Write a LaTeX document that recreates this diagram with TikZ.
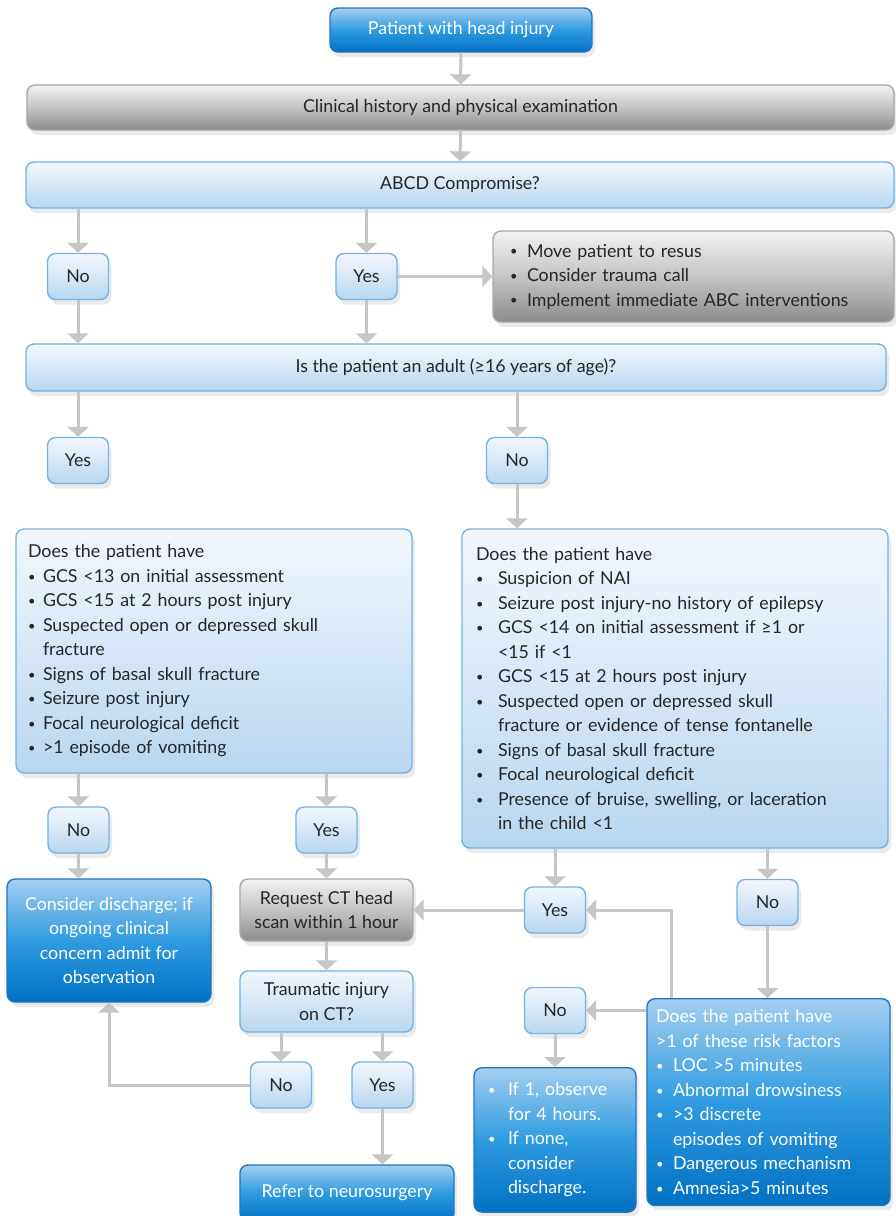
\documentclass[tikz,border=0pt]{standalone}
\usepackage{fontspec}
\setmainfont{Lato}
\usepackage{tikz}
\usetikzlibrary{arrows.meta,positioning,calc,shadows}

\definecolor{lbtop}{HTML}{F3F7FD}
\definecolor{lbbot}{HTML}{B7D7F1}
\definecolor{lbdraw}{HTML}{74B3E4}
\definecolor{dbtop}{HTML}{A4CEF0}
\definecolor{dbmid}{HTML}{2F9BE0}
\definecolor{dbbot}{HTML}{0070C4}
\definecolor{dbdraw}{HTML}{2574BE}
\definecolor{grtop}{HTML}{F2F2F2}
\definecolor{grmid}{HTML}{C4C4C4}
\definecolor{grbot}{HTML}{8C8C8C}
\definecolor{grdraw}{HTML}{A8A8A8}
\definecolor{txt}{HTML}{262626}
\definecolor{flowgray}{HTML}{C6C6C6}

\newcommand{\bul}[1]{\makebox[#1][l]{\raisebox{1.2pt}{\scalebox{0.72}{\textbullet}}}}

\begin{document}
\begin{tikzpicture}[
    x=1pt, y=-1pt,
    >={Triangle[length=10pt,width=21pt]},
    box/.style={rounded corners=8pt,line width=1.4pt,inner sep=0pt,
                font=\fontsize{17.8}{24.5}\selectfont,text=txt,
                drop shadow={shadow xshift=3pt,shadow yshift=-5pt,opacity=0.16}},
    pale/.style={box,draw=lbdraw,top color=lbtop,bottom color=lbbot},
    deep/.style={box,draw=dbdraw,top color=dbtop,bottom color=dbbot,
                 middle color=dbmid,text=white},
    greybox/.style={box,draw=grdraw,top color=grtop,bottom color=grbot,
                    middle color=grmid},
    answer/.style={pale,minimum width=61pt,minimum height=46pt},
    flow/.style={->,flowgray,line width=3pt},
  ]

  \useasboundingbox (0,0) rectangle (896,1216);
  \fill[white] (0,0) rectangle (896,1216);
  \clip (0,0) rectangle (896,1216);

  % --- arrival and first assessment ---
  \node[deep,minimum width=262pt,minimum height=44pt] (head) at (461,30)
    {Patient with head injury};
  \node[greybox,minimum width=867pt,minimum height=45pt] (clin) at (460.5,107.5)
    {Clinical history and physical examination};
  \node[pale,minimum width=868pt,minimum height=46pt] (abcd) at (460,185)
    {ABCD Compromise?};

  \node[answer] (abcdno)  at (78,276.5)  {No};
  \node[answer] (abcdyes) at (366.5,276.5) {Yes};
  \node[greybox,minimum width=401pt,minimum height=91pt,text width=367pt,
        align=left] (resus) at (693.5,276.5)
    {\bul{17pt}Move patient to resus\\
     \bul{17pt}Consider trauma call\\
     \bul{17pt}Implement immediate ABC interventions};

  % --- age split ---
  \node[pale,minimum width=860pt,minimum height=47pt] (adult) at (456,367.5)
    {Is the patient an adult (≥16 years of age)?};
  \node[answer] (adultyes) at (78,460.5)  {Yes};
  \node[answer] (adultno)  at (517,460.5) {No};

  % --- risk checklists ---
  \node[pale,minimum width=396pt,minimum height=244pt,text width=372pt,
        align=left] (adultrisk) at (214,651)
    {Does the patient have\\
     \bul{15pt}GCS <13 on initial assessment\\
     \bul{15pt}GCS <15 at 2 hours post injury\\
     \bul{15pt}Suspected open or depressed skull\\
     \hspace*{15pt}fracture\\
     \bul{15pt}Signs of basal skull fracture\\
     \bul{15pt}Seizure post injury\\
     \bul{15pt}Focal neurological deficit\\
     \bul{15pt}>1 episode of vomiting};
  \node[pale,minimum width=426pt,minimum height=319pt,text width=398pt,
        align=left] (childrisk) at (675,688.5)
    {Does the patient have\\
     \bul{22pt}Suspicion of NAI\\
     \bul{22pt}Seizure post injury-no history of epilepsy\\
     \bul{22pt}GCS <14 on initial assessment if ≥1 or\\
     \hspace*{22pt}<15 if <1\\
     \bul{22pt}GCS <15 at 2 hours post injury\\
     \bul{22pt}Suspected open or depressed skull\\
     \hspace*{22pt}fracture or evidence of tense fontanelle\\
     \bul{22pt}Signs of basal skull fracture\\
     \bul{22pt}Focal neurological deficit\\
     \bul{22pt}Presence of bruise, swelling, or laceration\\
     \hspace*{22pt}in the child <1};

  % --- adult outcomes ---
  \node[answer] (adultriskno)  at (78.5,830)  {No};
  \node[answer] (adultriskyes) at (326.5,830) {Yes};
  \node[deep,minimum width=204pt,minimum height=123pt,align=center]
    (discharge) at (109,940.5)
    {Consider discharge; if\\ ongoing clinical\\ concern admit for\\ observation};
  \node[greybox,minimum width=173pt,minimum height=62pt,align=center]
    (ct) at (326.5,910) {Request CT head\\ scan within 1 hour};
  \node[pale,minimum width=173pt,minimum height=61pt,align=center]
    (ctres) at (326.5,1001.5) {Traumatic injury\\ on CT?};
  \node[answer] (ctno)  at (281,1085)   {No};
  \node[answer] (ctyes) at (382.5,1085) {Yes};
  \node[deep,minimum width=214pt,minimum height=56pt] (neuro) at (347,1193)
    {Refer to neurosurgery};

  % --- child outcomes ---
  \node[answer] (childyes) at (555,910)     {Yes};
  \node[answer] (childno)  at (767.5,902.5) {No};
  \node[answer] (fewno)    at (555,1010.5)  {No};
  \node[deep,anchor=north,minimum width=243pt,text width=225pt,inner ysep=11pt,
        align=left] (factors) at (768.5,998)
    {Does the patient have\\
     >1 of these risk factors\\
     \bul{17pt}LOC >5 minutes\\
     \bul{17pt}Abnormal drowsiness\\
     \bul{17pt}>3 discrete\\
     \hspace*{17pt}episodes of vomiting\\
     \bul{17pt}Dangerous mechanism\\
     \bul{17pt}Amnesia>5 minutes};
  \node[deep,anchor=north,minimum width=162pt,text width=134pt,inner ysep=15pt,
        align=left] (observe) at (555,1067)
    {\bul{20pt}If 1, observe\\
     \hspace*{20pt}for 4 hours.\\
     \bul{20pt}If none,\\
     \hspace*{20pt}consider\\
     \hspace*{20pt}discharge.};

  % --- connectors ---
  \draw[flow] (head) -- (clin);
  \draw[flow] (clin) -- (abcd);
  \draw[flow] (abcd.south -| abcdno) -- (abcdno);
  \draw[flow] (abcd.south -| abcdyes) -- (abcdyes);
  \draw[flow] (abcdyes) -- (resus);
  \draw[flow] (abcdno) -- (abcdno |- adult.north);
  \draw[flow] (abcdyes) -- (abcdyes |- adult.north);
  \draw[flow] (adult.south -| adultyes) -- (adultyes);
  \draw[flow] (adult.south -| adultno) -- (adultno);
  \draw[flow] (adultno) -- (adultno |- childrisk.north);

  \draw[flow] (adultrisk.south -| adultriskno) -- (adultriskno);
  \draw[flow] (adultrisk.south -| adultriskyes) -- (adultriskyes);
  \draw[flow] (adultriskno) -- (adultriskno |- discharge.north);
  \draw[flow] (adultriskyes) -- (ct);
  \draw[flow] (ct) -- (ctres);
  \draw[flow] (ctres.south -| ctno) -- (ctno);
  \draw[flow] (ctres.south -| ctyes) -- (ctyes);
  \draw[flow] (ctyes) -- (ctyes |- neuro.north);
  \draw[flow] (ctno.west) -| (discharge.south);

  \draw[flow] (childrisk.south -| childyes) -- (childyes);
  \draw[flow] (childrisk.south -| childno) -- (childno);
  \draw[flow] (childyes) -- (ct);
  \draw[flow] (childno) -- (childno |- factors.north);
  \draw[flow] ([xshift=25pt]factors.north west) |- (childyes.east);
  \draw[flow] (factors.west |- fewno) -- (fewno.east);
  \draw[flow] (fewno) -- (fewno |- observe.north);

\end{tikzpicture}
\end{document}
